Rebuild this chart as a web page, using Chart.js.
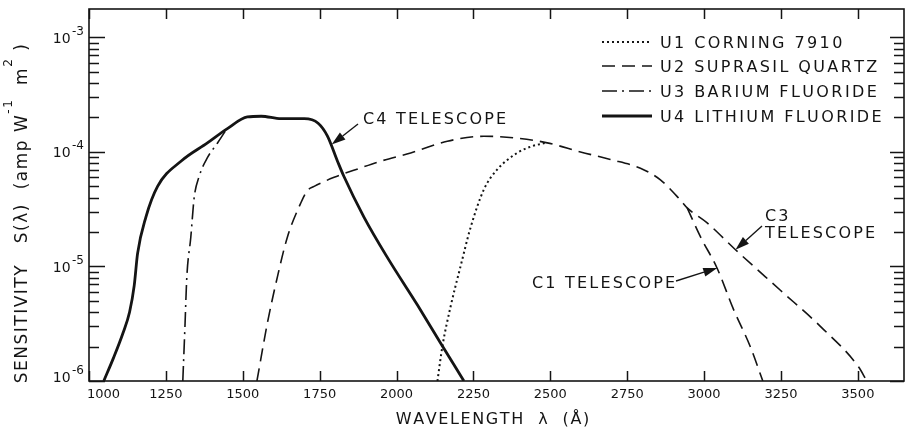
<!DOCTYPE html>
<html>
<head>
<meta charset="utf-8">
<script src="https://cdn.jsdelivr.net/npm/chart.js@4/dist/chart.umd.min.js"></script>
<style>
  html, body { margin: 0; padding: 0; background: #fff; }
  #wrap { width: 905px; height: 437px; position: relative; }
</style>
</head>
<body>
<div id="wrap"><canvas id="c"></canvas></div>
<script>
// Spectral sensitivity of the UV photometers (wavelength in Å, S in amp W^-1 m^2)

// U1 Corning 7910 (joins the Suprasil curve near 2490 Å)
const corningWavelength  = [2133, 2149, 2176, 2208, 2241, 2284, 2327, 2392, 2440, 2485];
const corningSensitivity = [1.0e-6, 2.0e-6, 4.5e-6, 1.0e-5, 2.2e-5, 4.7e-5, 7.0e-5, 9.8e-5, 1.12e-4, 1.2e-4];

// U2 Suprasil quartz, continuing down the C3 telescope branch
const suprasilWavelength  = [1546, 1580, 1613, 1645, 1689, 1710, 1732, 1797, 1880, 1948, 2046, 2165, 2284, 2381, 2490, 2598, 2695, 2793, 2858, 2923, 2945, 3010, 3102, 3248, 3378, 3502, 3529];
const suprasilSensitivity = [1.0e-6, 3.2e-6, 8.2e-6, 1.8e-5, 3.6e-5, 4.6e-5, 5.0e-5, 6.0e-5, 7.2e-5, 8.3e-5, 9.8e-5, 1.24e-4, 1.37e-4, 1.33e-4, 1.2e-4, 1.0e-4, 8.6e-5, 7.2e-5, 5.7e-5, 3.8e-5, 3.25e-5, 2.4e-5, 1.4e-5, 6.2e-6, 3.0e-6, 1.33e-6, 1.0e-6];

// U2 Suprasil quartz, C1 telescope branch
const suprasilC1Wavelength  = [2945, 2988, 3042, 3096, 3150, 3191];
const suprasilC1Sensitivity = [3.25e-5, 1.82e-5, 9.7e-6, 4.2e-6, 2.0e-6, 1.0e-6];

// U3 barium fluoride (joins the lithium fluoride curve near 1450 Å)
const bariumWavelength  = [1305, 1312, 1318, 1331, 1342, 1358, 1385, 1420, 1450];
const bariumSensitivity = [1.0e-6, 3.0e-6, 8.0e-6, 1.8e-5, 4.0e-5, 6.1e-5, 8.9e-5, 1.22e-4, 1.62e-4];

// U4 lithium fluoride (C4 telescope)
const lithiumWavelength  = [1048, 1080, 1110, 1132, 1147, 1158, 1185, 1223, 1299, 1385, 1450, 1515, 1560, 1624, 1700, 1745, 1775, 1808, 1829, 1894, 1970, 2068, 2143, 2219];
const lithiumSensitivity = [1.0e-6, 1.6e-6, 2.6e-6, 4.0e-6, 6.8e-6, 1.3e-5, 2.7e-5, 5.0e-5, 8.3e-5, 1.2e-4, 1.6e-4, 2.02e-4, 2.05e-4, 1.95e-4, 1.95e-4, 1.78e-4, 1.38e-4, 8.3e-5, 6.1e-5, 2.7e-5, 1.2e-5, 4.6e-6, 2.15e-6, 1.0e-6];

const seriesNames = ['U1 CORNING 7910', 'U2 SUPRASIL QUARTZ', 'U3 BARIUM FLUORIDE', 'U4 LITHIUM FLUORIDE'];
const xTicks = [1000, 1250, 1500, 1750, 2000, 2250, 2500, 2750, 3000, 3250, 3500];
const yDecades = [-6, -5, -4, -3];

const INK = '#141414';
const FONT = '"DejaVu Sans", sans-serif';

const pts = (xs, ys) => xs.map((x, i) => ({ x, y: ys[i] }));

// letter-spaced text; yMid is the middle of the capitals
function spaced(ctx, str, x, yMid, size, spacing, align) {
  ctx.font = size + 'px ' + FONT;
  const chars = [...str];
  const w = chars.map(c => ctx.measureText(c).width);
  const total = w.reduce((a, b) => a + b, 0) + spacing * (chars.length - 1);
  let cx = align === 'center' ? x - total / 2 : align === 'right' ? x - total : x;
  const base = yMid + size * 0.365;
  ctx.textAlign = 'left';
  ctx.textBaseline = 'alphabetic';
  chars.forEach((c, i) => { ctx.fillText(c, cx, base); cx += w[i] + spacing; });
  return total;
}

function arrow(ctx, x0, y0, x1, y1) {
  const ang = Math.atan2(y1 - y0, x1 - x0);
  const L = 14, H = 4.5;
  const bx = x1 - L * Math.cos(ang), by = y1 - L * Math.sin(ang);
  ctx.beginPath();
  ctx.moveTo(x0, y0);
  ctx.lineTo(bx, by);
  ctx.lineWidth = 1.4;
  ctx.stroke();
  ctx.beginPath();
  ctx.moveTo(x1, y1);
  ctx.lineTo(bx + H * Math.sin(ang), by - H * Math.cos(ang));
  ctx.lineTo(bx - H * Math.sin(ang), by + H * Math.cos(ang));
  ctx.closePath();
  ctx.fill();
}

// plot frame with inward tick marks on all four edges
const frame = {
  id: 'frame',
  beforeDatasetsDraw(chart) {
    const { ctx, chartArea: a, scales: { x, y } } = chart;
    ctx.save();
    ctx.setLineDash([]);
    ctx.strokeStyle = INK;
    ctx.lineWidth = 1.6;
    ctx.lineCap = 'butt';
    ctx.strokeRect(a.left, a.top, a.right - a.left, a.bottom - a.top);
    ctx.lineWidth = 1.5;
    ctx.beginPath();
    // wavelength ticks, bottom and top
    xTicks.forEach(v => {
      const px = Math.round(x.getPixelForValue(v)) + 0.5;
      ctx.moveTo(px, a.bottom); ctx.lineTo(px, a.bottom - 10);
      ctx.moveTo(px, a.top); ctx.lineTo(px, a.top + 10);
    });
    // 1..9 x 10^n ticks, left and right
    yDecades.forEach(d => {
      for (let k = 1; k <= 9; k++) {
        const v = k * Math.pow(10, d);
        if (v > y.max) break;
        const major = k === 1;
        const py = Math.round(y.getPixelForValue(v)) + 0.5;
        ctx.moveTo(a.left, py); ctx.lineTo(a.left + (major ? 16 : 10), py);
        ctx.moveTo(a.right, py); ctx.lineTo(a.right - (major ? 14 : 10), py);
      }
    });
    ctx.stroke();
    ctx.restore();
  }
};

// axis labels, legend and telescope notes
const decorations = {
  id: 'decorations',
  afterDraw(chart) {
    const { ctx, chartArea: a, scales: { x, y } } = chart;
    ctx.save();
    ctx.setLineDash([]);
    ctx.strokeStyle = INK;
    ctx.fillStyle = INK;

    // decade labels 10^-n
    yDecades.forEach(d => {
      const py = y.getPixelForValue(Math.pow(10, d)) - (d === -6 ? 4.5 : 0);
      ctx.font = '12px ' + FONT;
      const sup = '-' + Math.abs(d);
      const ws = ctx.measureText(sup).width;
      ctx.textAlign = 'left';
      ctx.textBaseline = 'alphabetic';
      ctx.fillText(sup, 84 - ws, py - 2.5);
      ctx.font = '14px ' + FONT;
      const wb = ctx.measureText('10').width;
      ctx.fillText('10', 84 - ws - 1.5 - wb, py + 5.2);
    });

    // x axis title
    spaced(ctx, 'WAVELENGTH  \u03bb  (\u00c5)', (a.left + a.right) / 2 - 4, 418, 16, 1.6, 'center');

    // y axis title, rotated, with superscripts
    ctx.save();
    ctx.translate(27, 213);
    ctx.rotate(-Math.PI / 2);
    const segs = [
      { t: 'SENSITIVITY   S(\u03bb)  (amp W', s: 17, dy: 0 },
      { t: '-1', s: 12, dy: -15 },
      { t: '  m', s: 17, dy: 0 },
      { t: '2', s: 12, dy: -15 },
      { t: ' )', s: 17, dy: 0 }
    ];
    const ls = 1.5;
    let total = 0;
    segs.forEach(g => {
      ctx.font = g.s + 'px ' + FONT;
      [...g.t].forEach(c => { total += ctx.measureText(c).width + ls; });
    });
    let cx = -total / 2;
    ctx.textAlign = 'left';
    ctx.textBaseline = 'alphabetic';
    segs.forEach(g => {
      ctx.font = g.s + 'px ' + FONT;
      [...g.t].forEach(c => { ctx.fillText(c, cx, g.dy); cx += ctx.measureText(c).width + ls; });
    });
    ctx.restore();

    // legend
    const rows = [42, 66, 91, 116];
    let r = 0;
    chart.data.datasets.forEach(ds => {
      if (!ds.label) return;
      const yy = rows[r++];
      ctx.save();
      ctx.lineWidth = ds.borderWidth;
      ctx.setLineDash(ds.borderDash || []);
      ctx.beginPath();
      ctx.moveTo(602, yy); ctx.lineTo(652, yy);
      ctx.stroke();
      ctx.restore();
      spaced(ctx, ds.label, 660, yy, 16, 2.4, 'left');
    });

    // telescope notes with arrows pointing at the curves
    const notes = [
      { lines: ['C4 TELESCOPE'], x: 363, y: [118], tail: [358, 124], tip: [1789, 1.16e-4] },
      { lines: ['C1 TELESCOPE'], x: 532, y: [282], tail: [676, 281], tip: [3043, 9.7e-6] },
      { lines: ['C3', 'TELESCOPE'], x: 765, y: [215, 232], tail: [762, 226], tip: [3102, 1.4e-5] }
    ];
    notes.forEach(n => {
      n.lines.forEach((t, i) => spaced(ctx, t, n.x, n.y[i], 16, 2.2, 'left'));
      arrow(ctx, n.tail[0], n.tail[1], x.getPixelForValue(n.tip[0]), y.getPixelForValue(n.tip[1]));
    });

    ctx.restore();
  }
};

const common = { borderColor: INK, pointRadius: 0, fill: false, cubicInterpolationMode: 'monotone', borderCapStyle: 'butt' };

new Chart(document.getElementById('c'), {
  type: 'line',
  data: {
    datasets: [
      { ...common, label: seriesNames[0], data: pts(corningWavelength, corningSensitivity), borderWidth: 2, borderDash: [2, 3] },
      { ...common, label: seriesNames[1], data: pts(suprasilWavelength, suprasilSensitivity), borderWidth: 1.6, borderDash: [13, 7] },
      { ...common, label: '', data: pts(suprasilC1Wavelength, suprasilC1Sensitivity), borderWidth: 1.6, borderDash: [13, 7] },
      { ...common, label: seriesNames[2], data: pts(bariumWavelength, bariumSensitivity), borderWidth: 1.6, borderDash: [15, 5, 2, 5] },
      { ...common, label: seriesNames[3], data: pts(lithiumWavelength, lithiumSensitivity), borderWidth: 2.8 }
    ]
  },
  options: {
    responsive: true,
    maintainAspectRatio: false,
    animation: false,
    layout: { padding: { left: 0, right: 1, top: 9, bottom: 0 } },
    plugins: { legend: { display: false }, tooltip: { enabled: false } },
    scales: {
      x: {
        type: 'linear', min: 1000, max: 3650,
        grid: { display: false, drawTicks: false },
        border: { display: false },
        afterBuildTicks: s => { s.ticks = xTicks.map(v => ({ value: v })); },
        afterFit: s => { s.height = 56; },
        ticks: {
          autoSkip: false, maxRotation: 0, padding: 6, color: INK,
          font: { family: FONT, size: 13 },
          // the 1000 label sits clear of the left frame
          callback: v => (v === 1000 ? '       1000' : String(v))
        }
      },
      y: {
        type: 'logarithmic', min: 1e-6, max: 1.77e-3,
        grid: { display: false, drawTicks: false },
        border: { display: false },
        ticks: { display: false },
        afterFit: s => { s.width = 89; }
      }
    }
  },
  plugins: [frame, decorations]
});
</script>
</body>
</html>
